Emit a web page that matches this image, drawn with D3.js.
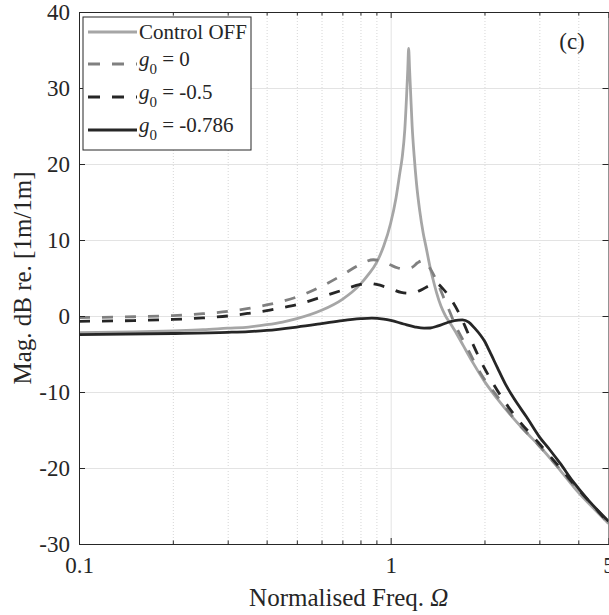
<!DOCTYPE html>
<html>
<head>
<meta charset="utf-8">
<script src="https://cdn.jsdelivr.net/npm/d3@7"></script>
<style>
  body { margin: 0; background: #fff; }
  text { font-family: "Liberation Serif", "Times New Roman", serif; fill: #262626; }
</style>
</head>
<body>
<div id="chart"></div>
<script>
// [Omega, dB]
const controlOff = [
  [0.1, -2.2], [0.15, -2.1], [0.2, -1.95], [0.25, -1.8], [0.3, -1.6], [0.35, -1.45],
  [0.4, -1.15], [0.45, -0.8], [0.5, -0.35], [0.6, 0.75], [0.7, 2.2], [0.8, 4.2],
  [0.85, 5.5], [0.9, 7.0], [0.95, 9.2], [1.0, 12.2], [1.04, 15.5], [1.07, 18.8],
  [1.09, 21.0], [1.11, 24.5], [1.125, 29], [1.135, 32.5], [1.142, 35.2], [1.15, 32.5],
  [1.16, 29], [1.172, 25], [1.19, 21], [1.21, 17.5], [1.24, 13.8], [1.272, 10.9],
  [1.3, 9.0], [1.337, 6.5], [1.37, 4.7], [1.405, 3.0], [1.45, 1.3], [1.5, 0.0],
  [1.55, -0.9], [1.6, -1.8], [1.71, -3.9], [1.84, -6.2], [2.0, -8.6], [2.2, -10.9],
  [2.47, -13.4], [2.75, -15.5], [3.0, -17.1], [3.5, -20.3], [4.0, -23.2], [4.5, -25.4],
  [5.0, -27.3]
];
const gZero = [
  [0.1, -0.2], [0.15, -0.1], [0.2, 0.05], [0.25, 0.3], [0.3, 0.6], [0.35, 1.0],
  [0.4, 1.45], [0.45, 1.95], [0.5, 2.5], [0.6, 3.9], [0.7, 5.4], [0.8, 6.8],
  [0.88, 7.4], [0.95, 7.1], [1.0, 6.7], [1.05, 6.35], [1.1, 6.2], [1.17, 6.4],
  [1.22, 7.0], [1.27, 7.3], [1.31, 6.8], [1.35, 6.0], [1.39, 5.0], [1.44, 3.6],
  [1.49, 2.1], [1.55, 0.5], [1.6, -0.9], [1.75, -4.0], [1.94, -7.5], [2.2, -10.6],
  [2.5, -13.6], [3.0, -17.1], [3.5, -20.2], [4.0, -22.9], [4.5, -25.2], [5.0, -27.3]
];
const gHalf = [
  [0.1, -0.7], [0.15, -0.6], [0.2, -0.45], [0.25, -0.25], [0.3, 0.0], [0.35, 0.35],
  [0.4, 0.7], [0.45, 1.1], [0.5, 1.5], [0.6, 2.5], [0.7, 3.4], [0.8, 4.15],
  [0.85, 4.3], [0.9, 4.15], [1.0, 3.6], [1.08, 3.1], [1.15, 3.0], [1.25, 3.4],
  [1.33, 4.0], [1.4, 4.3], [1.47, 3.6], [1.55, 2.4], [1.67, 0.1], [1.79, -2.7],
  [1.94, -5.8], [2.14, -9.0], [2.47, -12.8], [3.0, -16.8], [3.5, -20.0], [4.0, -22.8],
  [4.5, -25.1], [5.0, -27.2]
];
const gOpt = [
  [0.1, -2.45], [0.2, -2.3], [0.3, -2.15], [0.35, -2.05], [0.4, -1.9], [0.5, -1.45],
  [0.6, -1.0], [0.7, -0.6], [0.8, -0.35], [0.87, -0.27], [0.95, -0.4], [1.0, -0.57],
  [1.1, -1.05], [1.2, -1.45], [1.28, -1.6], [1.34, -1.58], [1.42, -1.3], [1.5, -0.95],
  [1.6, -0.6], [1.7, -0.5], [1.78, -0.8], [1.86, -1.6], [1.94, -2.5], [2.0, -3.3],
  [2.08, -4.7], [2.2, -6.8], [2.33, -8.9], [2.5, -11.0], [2.73, -13.3], [3.0, -15.9],
  [3.24, -17.6], [3.5, -19.4], [3.85, -21.8], [4.3, -24.2], [5.0, -27.0]
];

const xMajor = [0.1, 1, 5];
const xMinor = [0.2, 0.3, 0.4, 0.5, 0.6, 0.7, 0.8, 0.9, 2, 3, 4];
const yTicks = [-30, -20, -10, 0, 10, 20, 30, 40];

const series = [
  { name: "Control OFF", data: controlOff, color: "#a6a6a6", dash: null },
  { name: "0", data: gZero, color: "#808080", dash: "11,12" },
  { name: "-0.5", data: gHalf, color: "#262626", dash: "11,12" },
  { name: "-0.786", data: gOpt, color: "#262626", dash: null }
];

const width = 609, height = 615;
const m = { left: 79, right: 608.5, top: 12, bottom: 544 };

const x = d3.scaleLog().domain([0.1, 5]).range([m.left, m.right]);
const y = d3.scaleLinear().domain([-30, 40]).range([m.bottom, m.top]);

const svg = d3.select("#chart").append("svg")
  .attr("width", width)
  .attr("height", height);

svg.append("defs").append("clipPath").attr("id", "plot")
  .append("rect")
  .attr("x", m.left).attr("y", m.top)
  .attr("width", m.right - m.left).attr("height", m.bottom - m.top);

// grid
svg.append("g")
  .attr("transform", `translate(0,${m.bottom})`)
  .call(d3.axisBottom(x).tickValues(xMinor).tickSize(-(m.bottom - m.top)).tickFormat(""))
  .call(g => g.select(".domain").remove())
  .call(g => g.selectAll("line").attr("stroke", "#d6d6d6").attr("stroke-dasharray", "1,2"));

svg.append("g")
  .attr("transform", `translate(0,${m.bottom})`)
  .call(d3.axisBottom(x).tickValues([1]).tickSize(-(m.bottom - m.top)).tickFormat(""))
  .call(g => g.select(".domain").remove())
  .call(g => g.selectAll("line").attr("stroke", "#e3e3e3"));

svg.append("g")
  .attr("transform", `translate(${m.left},0)`)
  .call(d3.axisLeft(y).tickValues(yTicks.slice(1, -1)).tickSize(-(m.right - m.left)).tickFormat(""))
  .call(g => g.select(".domain").remove())
  .call(g => g.selectAll("line").attr("stroke", "#e3e3e3"));

// curves
const line = d3.line()
  .x(d => x(d[0]))
  .y(d => y(d[1]))
  .curve(d3.curveMonotoneX);

svg.append("g").attr("clip-path", "url(#plot)")
  .selectAll("path")
  .data(series)
  .join("path")
  .attr("d", d => line(d.data))
  .attr("fill", "none")
  .attr("stroke", d => d.color)
  .attr("stroke-width", 2.8)
  .attr("stroke-dasharray", d => d.dash);

// axes
function styleAxis(g) {
  g.select(".domain").attr("stroke", "#262626");
  g.selectAll(".tick line").attr("stroke", "#262626");
  g.selectAll("text").attr("font-size", 23).attr("fill", "#262626")
    .attr("font-family", '"Liberation Serif", serif');
}

svg.append("g")
  .attr("transform", `translate(0,${m.bottom})`)
  .call(d3.axisBottom(x).tickValues(xMajor).tickSizeInner(-6).tickSizeOuter(0)
    .tickPadding(13).tickFormat(d => String(d)))
  .call(styleAxis);

svg.append("g")
  .attr("transform", `translate(0,${m.bottom})`)
  .call(d3.axisBottom(x).tickValues(xMinor).tickSizeInner(-3.5).tickSizeOuter(0).tickFormat(""))
  .call(styleAxis);

svg.append("g")
  .attr("transform", `translate(0,${m.top})`)
  .call(d3.axisTop(x).tickValues(xMajor).tickSizeInner(-6).tickSizeOuter(0).tickFormat(""))
  .call(styleAxis);

svg.append("g")
  .attr("transform", `translate(0,${m.top})`)
  .call(d3.axisTop(x).tickValues(xMinor).tickSizeInner(-3.5).tickSizeOuter(0).tickFormat(""))
  .call(styleAxis);

svg.append("g")
  .attr("transform", `translate(${m.left},0)`)
  .call(d3.axisLeft(y).tickValues(yTicks).tickSizeInner(-6).tickSizeOuter(0)
    .tickPadding(9).tickFormat(d => String(d)))
  .call(styleAxis);

svg.append("g")
  .attr("transform", `translate(${m.right},0)`)
  .call(d3.axisRight(y).tickValues(yTicks).tickSizeInner(-6).tickSizeOuter(0).tickFormat(""))
  .call(styleAxis);

// axis titles
const xTitle = svg.append("text")
  .attr("x", (m.left + m.right) / 2 + 5)
  .attr("y", 606)
  .attr("text-anchor", "middle")
  .attr("font-size", 25);
xTitle.append("tspan").text("Normalised Freq. ");
xTitle.append("tspan").attr("font-style", "italic").text("Ω");

svg.append("text")
  .attr("transform", `translate(31,${(m.top + m.bottom) / 2}) rotate(-90)`)
  .attr("text-anchor", "middle")
  .attr("font-size", 25)
  .text("Mag. dB re. [1m/1m]");

svg.append("text")
  .attr("x", 572)
  .attr("y", 49)
  .attr("text-anchor", "middle")
  .attr("font-size", 23)
  .text("(c)");

// legend
const legend = svg.append("g");
legend.append("rect")
  .attr("x", 83).attr("y", 17)
  .attr("width", 168).attr("height", 133)
  .attr("fill", "#fff")
  .attr("stroke", "#262626");

const rowY = [32, 64, 97, 130];
const rows = legend.selectAll("g.row")
  .data(series)
  .join("g")
  .attr("class", "row");

rows.append("line")
  .attr("x1", 88).attr("x2", 137)
  .attr("y1", (d, i) => rowY[i]).attr("y2", (d, i) => rowY[i])
  .attr("stroke", d => d.color)
  .attr("stroke-width", 2.8)
  .attr("stroke-dasharray", d => d.dash ? "12,12" : null);

rows.each(function (d, i) {
  const t = d3.select(this).append("text")
    .attr("x", 139)
    .attr("font-size", 21);
  if (i === 0) {
    t.attr("y", rowY[i] + 7).text(d.name);
  } else {
    t.attr("y", rowY[i] + 2);
    t.append("tspan").attr("font-style", "italic").text("g");
    t.append("tspan").attr("font-size", 15).attr("dy", 8).text("0");
    t.append("tspan").attr("dy", -8).text(" = " + d.name);
  }
});
</script>
</body>
</html>
